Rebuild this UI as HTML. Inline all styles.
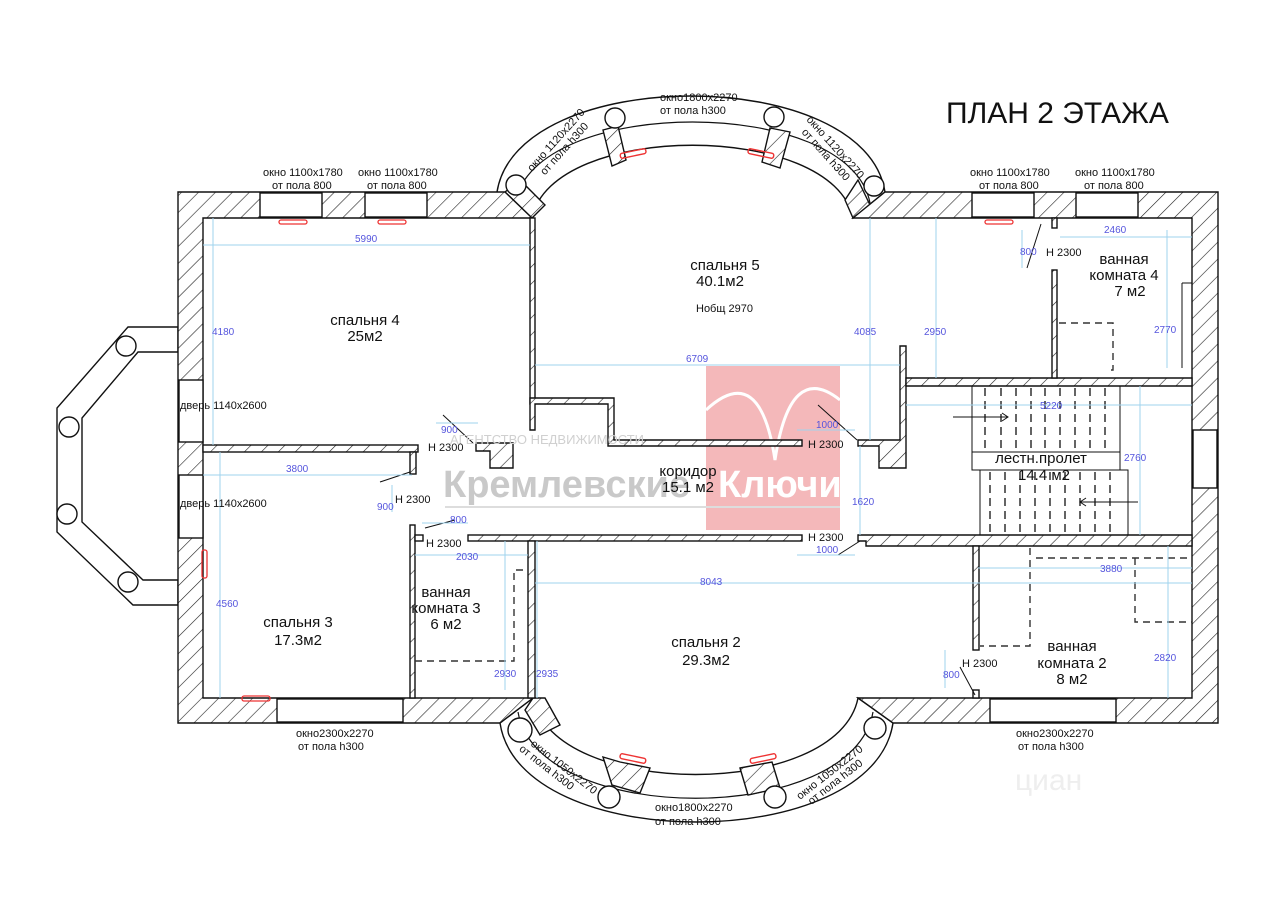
<!DOCTYPE html>
<html><head><meta charset="utf-8"><style>
body{margin:0;background:#fff}
svg{display:block}
text{font-family:"Liberation Sans",sans-serif}
.b{font-size:15px;fill:#111}
.s{font-size:11px;fill:#111}
.d{font-size:10px;fill:#5555dd}
.w{fill:url(#h);stroke:#111;stroke-width:1.4}
.o{fill:#fff;stroke:#111;stroke-width:1.4}
.dm{stroke:#9fd3ee;stroke-width:1;fill:none}
.da{stroke:#333;stroke-width:1.4;fill:none;stroke-dasharray:7 5}
</style></head><body>
<svg width="1280" height="911" viewBox="0 0 1280 911" xmlns="http://www.w3.org/2000/svg">
<defs><pattern id="h" patternUnits="userSpaceOnUse" width="12" height="12" patternTransform="rotate(45)"><rect width="12" height="12" fill="#fff"/><line x1="0" y1="0" x2="0" y2="12" stroke="#222" stroke-width="1.2"/></pattern></defs>

<rect x="706" y="366" width="134" height="164" fill="#f4b8ba"/>
<path d="M706,410 Q760,360 775,460 Q790,360 840,400" stroke="#fff" stroke-width="3" fill="none"/>

<path d="M178,327 L128,327 L57,408 L57,532 L133,605 L178,605 L178,580 L143,580 L82,522 L82,418 L138,352 L178,352 Z" class="o"/>
<circle cx="126" cy="346" r="10" class="o"/><circle cx="69" cy="427" r="10" class="o"/><circle cx="67" cy="514" r="10" class="o"/><circle cx="128" cy="582" r="10" class="o"/>

<path d="M497,192 C517,64 865,64 885,192 L853,218 C833,121 552,121 532,218 Z" class="o"/>
<path d="M515,203 C535,95 850,95 870,203" fill="none" stroke="#111" stroke-width="1.2"/>
<path d="M603,130 L618,126 L626,160 L612,166 Z M770,128 L790,132 L780,168 L762,162 Z M505,192 L532,218 L545,205 L520,180 Z M858,180 L870,205 L853,218 L845,200 Z" class="w"/>
<circle cx="516" cy="185" r="10" class="o"/><circle cx="615" cy="118" r="10" class="o"/><circle cx="774" cy="117" r="10" class="o"/><circle cx="874" cy="186" r="10" class="o"/>
<rect x="620" y="151" width="26" height="5" rx="2" fill="none" stroke="#e33" stroke-width="1.4" transform="rotate(-12 633 153)"/>
<rect x="748" y="151" width="26" height="5" rx="2" fill="none" stroke="#e33" stroke-width="1.4" transform="rotate(12 761 153)"/>

<path d="M500,723 C520,855 873,855 893,723 L858,698 C838,800 553,800 533,698 Z" class="o"/>
<path d="M518,712 C538,827 853,827 873,712" fill="none" stroke="#111" stroke-width="1.2"/>
<path d="M603,757 L620,762 L650,768 L640,793 L612,785 Z M740,768 L772,762 L780,788 L748,795 Z M533,698 L545,698 L560,725 L540,735 L525,710 Z" class="w"/>
<circle cx="520" cy="730" r="12" class="o"/><circle cx="609" cy="797" r="11" class="o"/><circle cx="775" cy="797" r="11" class="o"/><circle cx="875" cy="728" r="11" class="o"/>
<rect x="620" y="756" width="26" height="5" rx="2" fill="none" stroke="#e33" stroke-width="1.4" transform="rotate(12 633 758)"/>
<rect x="750" y="756" width="26" height="5" rx="2" fill="none" stroke="#e33" stroke-width="1.4" transform="rotate(-12 763 758)"/>

<path d="M178,192 L505,192 L532,218 L203,218 L203,698 L533,698 L500,723 L178,723 Z" class="w"/>
<path d="M885,192 L1218,192 L1218,723 L893,723 L858,698 L1192,698 L1192,218 L853,218 Z" class="w"/>
<rect x="260" y="193" width="62" height="24" class="o"/><rect x="365" y="193" width="62" height="24" class="o"/>
<rect x="972" y="193" width="62" height="24" class="o"/><rect x="1076" y="193" width="62" height="24" class="o"/>
<rect x="279" y="220" width="28" height="4" rx="2" fill="none" stroke="#e33" stroke-width="1.3"/>
<rect x="378" y="220" width="28" height="4" rx="2" fill="none" stroke="#e33" stroke-width="1.3"/>
<rect x="985" y="220" width="28" height="4" rx="2" fill="none" stroke="#e33" stroke-width="1.3"/>
<rect x="179" y="380" width="24" height="62" class="o"/><rect x="179" y="475" width="24" height="63" class="o"/>
<rect x="202" y="550" width="5" height="28" rx="2" fill="none" stroke="#e33" stroke-width="1.3"/>
<rect x="242" y="696" width="28" height="5" rx="2" fill="none" stroke="#e33" stroke-width="1.3"/>
<rect x="277" y="699" width="126" height="23" class="o"/><rect x="990" y="699" width="126" height="23" class="o"/>
<rect x="1193" y="430" width="24" height="58" class="o"/>

<rect x="203" y="445" width="215" height="7" class="w"/>
<rect x="410" y="452" width="6" height="22" class="w"/>
<rect x="530" y="218" width="5" height="186" class="w"/>
<path d="M530,398 L614,398 L614,440 L802,440 L802,446 L608,446 L608,404 L535,404 L535,430 L530,430 Z" class="w"/>
<path d="M476,443 L513,443 L513,468 L490,468 L490,451 L476,451 Z" class="w"/>
<path d="M858,440 L900,440 L900,346 L906,346 L906,468 L879,468 L879,446 L858,446 Z" class="w"/>
<path d="M906,378 L1192,378 L1192,386 L906,386 Z" class="w"/>
<rect x="1052" y="270" width="5" height="108" class="w"/>
<rect x="1052" y="218" width="5" height="10" class="w"/>
<rect x="468" y="535" width="334" height="6" class="w"/>
<path d="M858,535 L1192,535 L1192,546 L866,546 L866,541 L858,541 Z" class="w"/>
<rect x="410" y="525" width="5" height="173" class="w"/>
<rect x="415" y="535" width="8" height="6" class="w"/>
<rect x="528" y="541" width="7" height="157" class="w"/>
<rect x="973" y="546" width="6" height="104" class="w"/>
<rect x="973" y="690" width="6" height="8" class="w"/>

<rect x="972" y="386" width="148" height="66" fill="none" stroke="#111" stroke-width="1"/>
<rect x="972" y="452" width="148" height="18" fill="none" stroke="#111" stroke-width="1"/>
<rect x="980" y="470" width="148" height="65" fill="none" stroke="#111" stroke-width="1"/>
<g stroke="#111" stroke-width="1.3" stroke-dasharray="8 5">
<path d="M985,388V450M1001,388V450M1016,388V450M1031,388V450M1045,388V450M1060,388V450M1075,388V450M1090,388V450M1105,388V450"/>
<path d="M990,472V533M1005,472V533M1020,472V533M1035,472V533M1050,472V533M1065,472V533M1080,472V533M1095,472V533M1110,472V533"/>
</g>
<path d="M953,417 H1008 M1002,413 L1008,417 L1002,421" stroke="#111" fill="none"/>
<path d="M1138,502 H1080 M1086,498 L1080,502 L1086,506" stroke="#111" fill="none"/>

<path d="M1059,323 H1113 V370 H1110" class="da"/>
<path d="M1182,283 V368 M1182,283 H1192" stroke="#111" fill="none"/>
<path d="M1030,548 V646 H980 M1036,558 H1192 M1135,558 V622 H1192" class="da"/>
<path d="M415,661 H514 V570 H524" class="da"/>

<path d="M443,415 L473,443 M818,405 L857,440 M380,482 L410,472 M425,528 L455,520 M838,555 L860,541 M1041,224 L1027,268 M960,667 L975,695" stroke="#111" fill="none"/>

<g class="dm">
<path d="M203,245 H530 M213,218 V445 M203,475 H412 M220,452 V698 M535,365 H900 M535,583 H1192 M537,541 V698 M978,568 H1192 M1168,546 V698 M1167,230 V368 M870,218 V440 M936,218 V378 M906,405 H1192 M1140,386 V535 M860,446 V535 M415,555 H528 M505,541 V690 M1060,237 H1192"/>
<path d="M392,485 V512 M1022,230 V268 M945,650 V688 M436,423 H478 M422,523 H468 M797,430 H855 M797,555 H855"/>
</g>

<text x="443" y="497" style="font-size:38px;font-weight:bold;fill:#c9c9c9">Кремлевские</text>
<text x="718" y="497" style="font-size:38px;font-weight:bold;fill:#fff">Ключи</text>
<text x="450" y="444" style="font-size:13px;fill:#d0d0d0">АГЕНТСТВО НЕДВИЖИМОСТИ</text>
<line x1="445" y1="507" x2="840" y2="507" stroke="#ddd" stroke-width="2"/>
<text x="1015" y="790" style="font-size:30px;fill:#eeeeee">циан</text>

<text x="946" y="123" style="font-size:30px;fill:#111">ПЛАН 2 ЭТАЖА</text>

<g class="b" text-anchor="middle">
<text x="365" y="325">спальня 4</text><text x="365" y="341">25м2</text>
<text x="725" y="270">спальня 5</text><text x="720" y="286">40.1м2</text>
<text x="688" y="476">коридор</text><text x="688" y="492">15.1 м2</text>
<text x="298" y="627">спальня 3</text><text x="298" y="645">17.3м2</text>
<text x="446" y="597">ванная</text><text x="446" y="613">комната 3</text><text x="446" y="629">6 м2</text>
<text x="706" y="647">спальня 2</text><text x="706" y="665">29.3м2</text>
<text x="1072" y="651">ванная</text><text x="1072" y="668">комната 2</text><text x="1072" y="684">8 м2</text>
<text x="1124" y="264">ванная</text><text x="1124" y="280">комната 4</text><text x="1130" y="296">7 м2</text>
<text x="1041" y="463">лестн.пролет</text><text x="1044" y="480">14.4 м2</text>
</g>
<text x="696" y="312" class="s">Нобщ 2970</text>

<g class="s">
<text x="263" y="176">окно 1100х1780</text><text x="272" y="189">от пола 800</text>
<text x="358" y="176">окно 1100х1780</text><text x="367" y="189">от пола 800</text>
<text x="970" y="176">окно 1100х1780</text><text x="979" y="189">от пола 800</text>
<text x="1075" y="176">окно 1100х1780</text><text x="1084" y="189">от пола 800</text>
<text x="660" y="101">окно1800х2270</text><text x="660" y="114">от пола h300</text>
<text x="180" y="409">дверь 1140х2600</text>
<text x="180" y="507">дверь 1140х2600</text>
<text x="296" y="737">окно2300х2270</text><text x="298" y="750">от пола h300</text>
<text x="1016" y="737">окно2300х2270</text><text x="1018" y="750">от пола h300</text>
<text x="655" y="811">окно1800х2270</text><text x="655" y="825">от пола h300</text>
<text x="428" y="451">H 2300</text><text x="395" y="503">H 2300</text><text x="426" y="547">H 2300</text>
<text x="808" y="448">H 2300</text><text x="808" y="541">H 2300</text>
<text x="1046" y="256">H 2300</text><text x="962" y="667">H 2300</text>
<g transform="translate(532,172) rotate(-48)"><text x="0" y="0">окно 1120х2270</text><text x="6" y="12">от пола h300</text></g>
<g transform="translate(806,120) rotate(48)"><text x="0" y="0">окно 1120х2270</text><text x="6" y="12">от пола h300</text></g>
<g transform="translate(530,745) rotate(38)"><text x="0" y="0">окно 1050х2270</text><text x="-6" y="11">от пола h300</text></g>
<g transform="translate(800,800) rotate(-38)"><text x="0" y="0">окно 1050х2270</text><text x="6" y="11">от пола h300</text></g>
</g>

<g class="d">
<text x="355" y="242">5990</text><text x="212" y="335">4180</text><text x="286" y="472">3800</text>
<text x="216" y="607">4560</text><text x="441" y="433">900</text><text x="377" y="510">900</text>
<text x="450" y="523">800</text><text x="456" y="560">2030</text><text x="494" y="677">2930</text>
<text x="536" y="677">2935</text><text x="686" y="362">6709</text><text x="700" y="585">8043</text>
<text x="854" y="335">4085</text><text x="924" y="335">2950</text><text x="816" y="428">1000</text>
<text x="852" y="505">1620</text><text x="816" y="553">1000</text><text x="1040" y="409">5220</text>
<text x="1124" y="461">2760</text><text x="1104" y="233">2460</text><text x="1020" y="255">800</text>
<text x="1154" y="333">2770</text><text x="1100" y="572">3880</text><text x="1154" y="661">2820</text>
<text x="943" y="678">800</text>
</g>
</svg>
</body></html>
